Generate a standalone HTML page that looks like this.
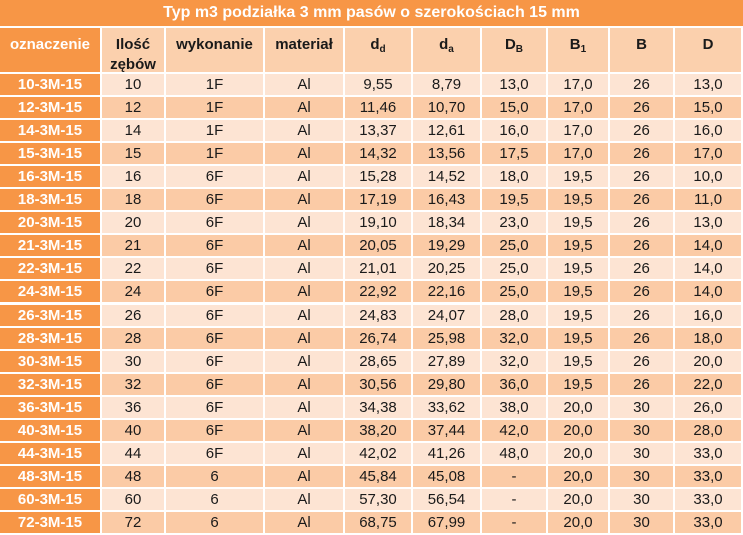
<!DOCTYPE html>
<html><head><meta charset="utf-8"><style>
body{margin:0;width:743px;height:535px;background:#fff;overflow:hidden;font-family:"Liberation Sans",sans-serif}
.c{position:absolute;display:flex;align-items:center;justify-content:center;box-sizing:border-box;font-size:15px;color:#1a1a1a}
.t{background:#f79646;color:#fff;font-weight:bold;font-size:16px}
.h{background:#fbd0ad;font-weight:bold;align-items:flex-start;padding-top:7px;text-align:center;line-height:20px}
.f{background:#f79646;color:#fff;font-weight:bold}
.a{background:#fde4d3}.b{background:#fbcba6}
sub{font-size:10px;vertical-align:-3px;line-height:0}
</style></head><body><div id="r"></div>
<script>
const X=[0,102,166,265,345,413,482,548,610,675,743];
const data=`10-3M-15 10 1F Al 9,55 8,79 13,0 17,0 26 13,0
12-3M-15 12 1F Al 11,46 10,70 15,0 17,0 26 15,0
14-3M-15 14 1F Al 13,37 12,61 16,0 17,0 26 16,0
15-3M-15 15 1F Al 14,32 13,56 17,5 17,0 26 17,0
16-3M-15 16 6F Al 15,28 14,52 18,0 19,5 26 10,0
18-3M-15 18 6F Al 17,19 16,43 19,5 19,5 26 11,0
20-3M-15 20 6F Al 19,10 18,34 23,0 19,5 26 13,0
21-3M-15 21 6F Al 20,05 19,29 25,0 19,5 26 14,0
22-3M-15 22 6F Al 21,01 20,25 25,0 19,5 26 14,0
24-3M-15 24 6F Al 22,92 22,16 25,0 19,5 26 14,0
26-3M-15 26 6F Al 24,83 24,07 28,0 19,5 26 16,0
28-3M-15 28 6F Al 26,74 25,98 32,0 19,5 26 18,0
30-3M-15 30 6F Al 28,65 27,89 32,0 19,5 26 20,0
32-3M-15 32 6F Al 30,56 29,80 36,0 19,5 26 22,0
36-3M-15 36 6F Al 34,38 33,62 38,0 20,0 30 26,0
40-3M-15 40 6F Al 38,20 37,44 42,0 20,0 30 28,0
44-3M-15 44 6F Al 42,02 41,26 48,0 20,0 30 33,0
48-3M-15 48 6 Al 45,84 45,08 - 20,0 30 33,0
60-3M-15 60 6 Al 57,30 56,54 - 20,0 30 33,0
72-3M-15 72 6 Al 68,75 67,99 - 20,0 30 33,0`.split("\n").map(l=>l.split(" "));
const H=["oznaczenie","Ilość<br>zębów","wykonanie","materiał","d<sub>d</sub>","d<sub>a</sub>","D<sub>B</sub>","B<sub>1</sub>","B","D"];
let h='<div class="c t" style="left:0;top:0;width:743px;height:26px">Typ m3 podziałka 3 mm pasów o szerokościach 15 mm</div>';
for(let i=0;i<10;i++){h+=`<div class="c h ${i==0?'f':''}" style="left:${X[i]}px;top:28px;width:${X[i+1]-X[i]-2}px;height:44px"><span>${H[i]}</span></div>`;}
const y0=74,rh=23.05;
data.forEach((r,j)=>{const t=y0+j*rh;for(let i=0;i<10;i++){h+=`<div class="c ${i==0?'f':(j%2?'b':'a')}" style="left:${X[i]}px;top:${t}px;width:${X[i+1]-X[i]-2}px;height:${rh-2}px">${r[i]}</div>`;}});
document.getElementById('r').innerHTML=h;
</script></body></html>
